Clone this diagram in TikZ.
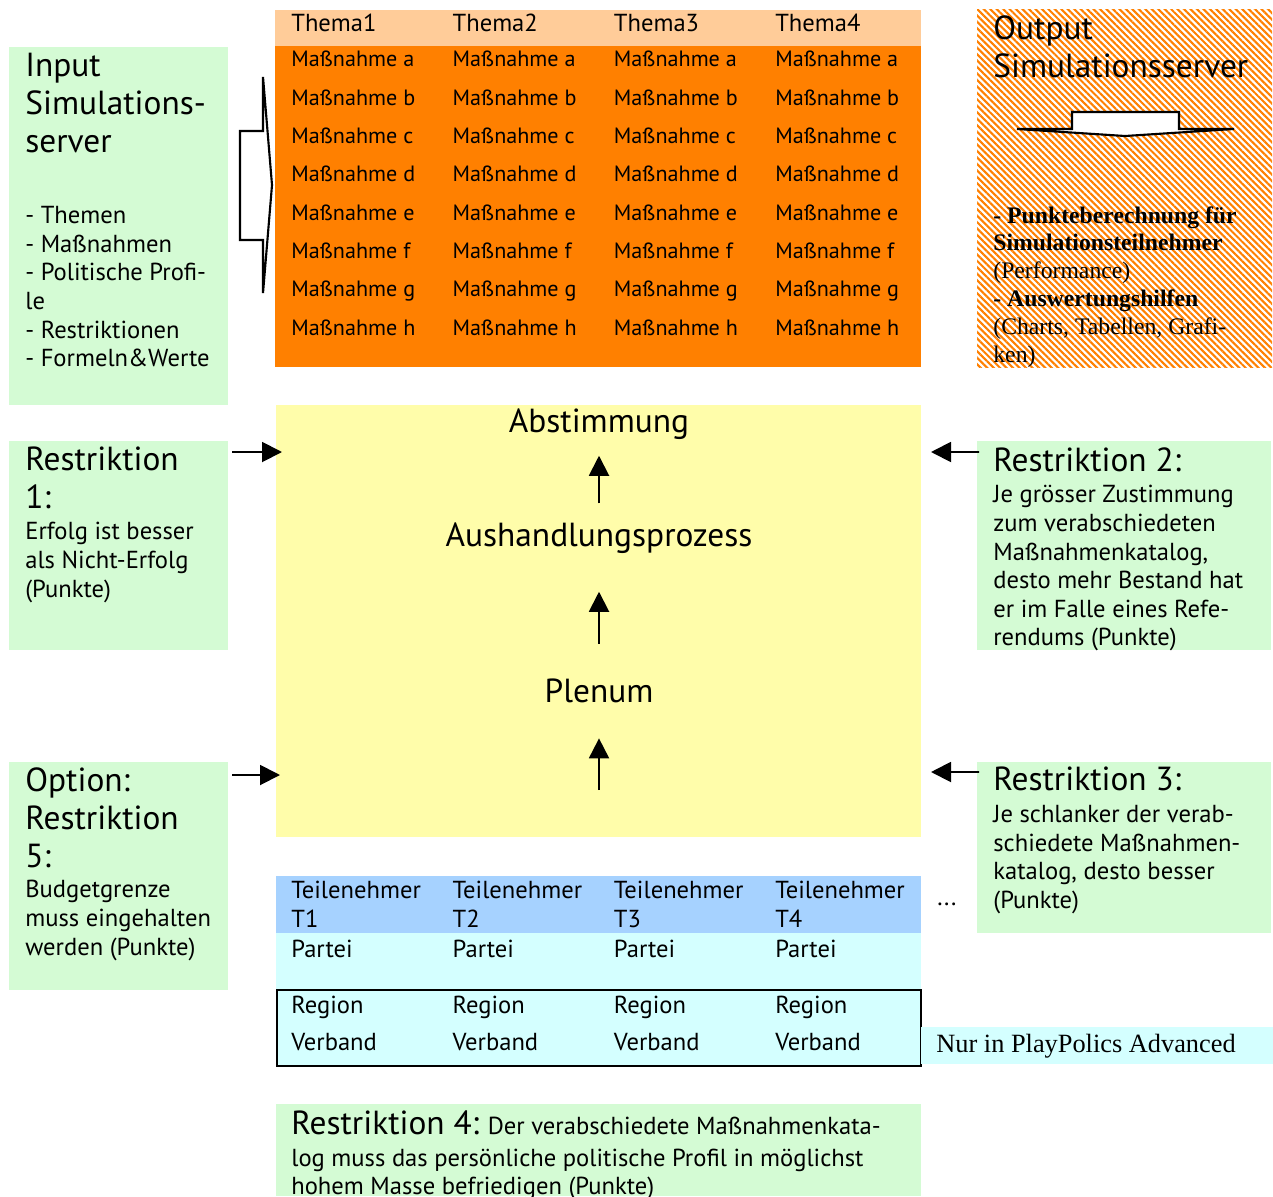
\documentclass[tikz,border=0pt]{standalone}
\usepackage{fontspec}
\setmainfont{PT Sans}
\newfontfamily\timesfont{Liberation Serif}
\usetikzlibrary{arrows.meta,fit,patterns.meta}

\definecolor{gruen}{RGB}{212,251,212}
\definecolor{pfirsich}{RGB}{255,204,153}
\definecolor{orangerot}{RGB}{255,128,0}
\definecolor{gelb}{RGB}{255,253,170}
\definecolor{blau}{RGB}{166,210,255}
\definecolor{hellcyan}{RGB}{212,255,255}

\tikzset{
  flaeche/.style={inner sep=0pt, outer sep=0pt, draw=none},
  gross/.style={font=\fontsize{19}{21.6}\selectfont},
  klein/.style={font=\fontsize{14}{16.3}\selectfont},
  serif/.style={font=\timesfont\fontsize{13.5}{15.9}\selectfont},
  txt/.style={inner sep=0pt, anchor=north west, align=left},
  zeile/.style={inner sep=0pt, anchor=base west, font=\fontsize{14}{16.3}\selectfont},
  massnahme/.style={zeile, font=\fontsize{12.6}{15}\selectfont},
  pfeil/.style={-{Triangle[length=0.4cm,width=0.4cm]}, line width=1.1pt},
  blockpfeil/.style={draw, fill=white, line width=1.2pt, line join=miter}
}

\begin{document}
\begin{tikzpicture}[x=0.02cm, y=-0.02cm]
  \useasboundingbox (0,0) rectangle (1273,1196);
  % boxes
  \node[flaeche, fill=gruen, fit={(9,47) (228,405)}] (input) {};
  \node[flaeche, fill=pfirsich, fit={(275,10) (921,46)}] (kopf) {};
  \node[flaeche, fill=orangerot, fit={(275,46) (921,367)}] (tabelle) {};
  \node[flaeche, fill=white, postaction={pattern color=orangerot, pattern={Lines[angle=-45,distance=2.6pt,line width=1.2pt]}}, fit={(977,10) (1272,367)}] (output) {};
  \node[flaeche, fill=gelb, fit={(276,405) (921,837)}] (sitzung) {};
  \node[flaeche, fill=gruen, fit={(9,441) (228,650)}] (r1) {};
  \node[flaeche, fill=gruen, fit={(977,441) (1271,650)}] (r2) {};
  \node[flaeche, fill=gruen, fit={(9,762) (228,990)}] (option) {};
  \node[flaeche, fill=gruen, fit={(977,762) (1271,933)}] (r3) {};
  \node[flaeche, fill=blau, fit={(276,876) (921,933)}] (teilnehmer) {};
  \node[flaeche, fill=hellcyan, fit={(276,933) (921,1066)}] (parteien) {};
  \node[flaeche, draw=black, line width=1.2pt, fit={(277,990) (921,1066)}] (regionen) {};
  \node[flaeche, fill=hellcyan, fit={(921,1027) (1273,1064)}] (advanced) {};
  \node[flaeche, fill=gruen, fit={(276,1104) (921,1196)}] (r4) {};

  % input / output
  \node[txt, gross] (inputtitel) at (25,53) {Input\\Simulations-\\server};
  \node[txt, klein] (inputliste) at (25,206) {- Themen\\- Maßnahmen\\- Politische Profi-\\le\\- Restriktionen\\- Formeln\&Werte};
  \node[txt, gross] (outputtitel) at (993,15) {Output\\Simulationsserver};
  \node[txt, serif] (outputliste) at (993,206) {\textbf{- Punkteberechnung für}\\\textbf{Simulationsteilnehmer}\\(Performance)\\\textbf{- Auswertungshilfen}\\(Charts, Tabellen, Grafi-\\ken)};
  \draw[blockpfeil] (240,131) -- (263,131) -- (263,77) -- (272,185) -- (263,293) -- (263,240) -- (240,240) -- cycle;
  \draw[blockpfeil] (1072,112) -- (1179,112) -- (1179,129) -- (1234,129) -- (1125,136) -- (1017,129) -- (1072,129) -- cycle;

  % themen und massnahmen
  \foreach \t in {1,...,4} {
    \node[zeile] (thema\t) at ({291+161.3*(\t-1)},32) {Thema\t};
    \foreach \m [count=\j] in {a,...,h}
      \node[massnahme] (m\t\m) at ({291+161.3*(\t-1)},{67+38.3*(\j-1)}) {Maßnahme \m};
  }

  % teilnehmer
  \foreach \t in {1,...,4} {
    \node[zeile] (tn\t) at ({291+161.3*(\t-1)},898) {Teilenehmer};
    \node[zeile] (tk\t) at ({291+161.3*(\t-1)},927) {T\t};
    \node[zeile] (partei\t) at ({291+161.3*(\t-1)},957) {Partei};
    \node[zeile] (region\t) at ({291+161.3*(\t-1)},1013) {Region};
    \node[zeile] (verband\t) at ({291+161.3*(\t-1)},1050) {Verband};
  }
  \node[zeile] (weitere) at (937,905) {...};
  \node[inner sep=0pt, anchor=base west, font=\timesfont\fontsize{15}{18}\selectfont] (nurtext) at (936,1052) {Nur in PlayPolics Advanced};

  % ablauf
  \node[gross, inner sep=0pt] (abst) at (599,424) {Abstimmung};
  \node[gross, inner sep=0pt] (aush) at (599,538) {Aushandlungsprozess};
  \node[gross, inner sep=0pt] (plenum) at (599,691) {Plenum};
  \coordinate (basis) at (599,790);
  \draw[pfeil, shorten <=0.38cm, shorten >=0.32cm] (aush) -- (abst);
  \draw[pfeil, shorten <=0.7cm, shorten >=0.76cm] (plenum) -- (aush);
  \draw[pfeil, shorten >=0.7cm] (basis) -- (plenum);

  % restriktionen
  \node[txt, gross] (r1titel) at (25,447) {Restriktion\\1:};
  \node[txt, klein] (r1text) at (25,522) {Erfolg ist besser\\als Nicht-Erfolg\\(Punkte)};
  \node[txt, gross] (r2titel) at (993,447) {Restriktion 2:};
  \node[txt, klein] (r2text) at (993,485) {Je grösser Zustimmung\\zum verabschiedeten\\Maßnahmenkatalog,\\desto mehr Bestand hat\\er im Falle eines Refe-\\rendums (Punkte)};
  \node[txt, gross] (optiontitel) at (25,767) {Option:\\Restriktion\\5:};
  \node[txt, klein] (optiontext) at (25,880) {Budgetgrenze\\muss eingehalten\\werden (Punkte)};
  \node[txt, gross] (r3titel) at (993,767) {Restriktion 3:};
  \node[txt, klein] (r3text) at (993,805) {Je schlanker der verab-\\schiedete Maßnahmen-\\katalog, desto besser\\(Punkte)};
  \node[txt, klein] (r4text) at (291,1110) {{\fontsize{19}{21.6}\selectfont Restriktion 4:} Der verabschiedete Maßnahmenkata-\\[2pt]log muss das persönliche politische Profil in möglichst\\hohem Masse befriedigen (Punkte)};
  \draw[pfeil] ([shift={(4,11)}]r1.north east) -- ([shift={(6,47)}]sitzung.north west);
  \draw[pfeil] ([shift={(4,13)}]option.north east) -- ([shift={(4,370)}]sitzung.north west);
  \draw[pfeil] ([shift={(2,11)}]r2.north west) -- ([shift={(10,47)}]sitzung.north east);
  \draw[pfeil] ([shift={(2,10)}]r3.north west) -- ([shift={(10,367)}]sitzung.north east);
\end{tikzpicture}
\end{document}
